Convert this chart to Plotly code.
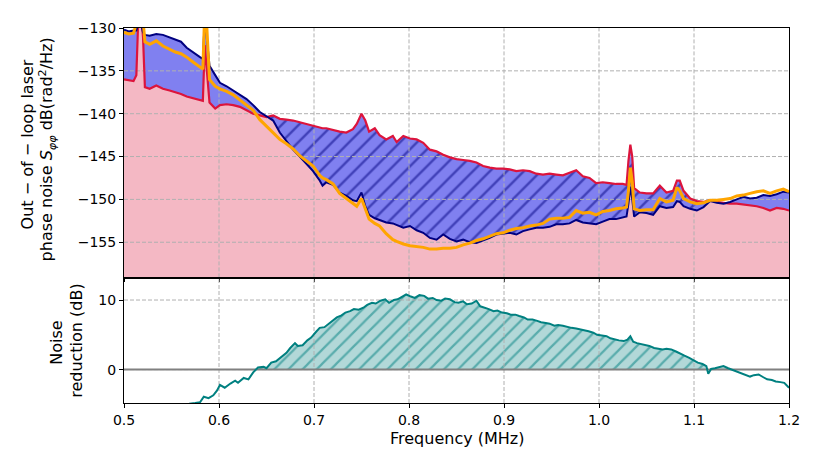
import numpy as np
import plotly.graph_objects as go

# ---- data ----
FREQ = [0.500, 0.505, 0.510, 0.513, 0.515, 0.518, 0.520, 0.522, 0.527, 0.534,
        0.541, 0.548, 0.554, 0.560, 0.566, 0.573, 0.580, 0.583, 0.585, 0.587,
        0.590, 0.596, 0.601, 0.608, 0.615, 0.622, 0.629, 0.636, 0.643, 0.650,
        0.657, 0.664, 0.671, 0.678, 0.685, 0.692, 0.699, 0.706, 0.709, 0.713,
        0.720, 0.727, 0.734, 0.741, 0.745, 0.750, 0.754, 0.758, 0.764, 0.769,
        0.776, 0.783, 0.787, 0.794, 0.801, 0.808, 0.815, 0.822, 0.829, 0.836,
        0.843, 0.850, 0.857, 0.864, 0.871, 0.878, 0.885, 0.892, 0.899, 0.906,
        0.913, 0.920, 0.927, 0.934, 0.941, 0.948, 0.955, 0.962, 0.969, 0.976,
        0.983, 0.990, 0.997, 1.004, 1.011, 1.018, 1.025, 1.029, 1.031, 1.033,
        1.035, 1.037, 1.043, 1.050, 1.057, 1.064, 1.071, 1.078, 1.082, 1.085,
        1.089, 1.096, 1.103, 1.110, 1.117, 1.124, 1.131, 1.138, 1.145, 1.152,
        1.159, 1.166, 1.173, 1.180, 1.187, 1.194, 1.200]

CRIMSON_DB = [-136.0, -136.1, -136.2, -135.5, -129.0, -128.5, -131.0, -136.9, -137.1, -136.7,
              -137.1, -137.3, -137.5, -137.7, -138.0, -138.2, -138.4, -138.5, -132.0, -134.5,
              -138.7, -139.4, -139.0, -138.9, -139.0, -139.2, -139.6, -140.0, -140.2, -140.4,
              -140.2, -140.6, -140.7, -140.8, -141.0, -141.2, -141.4, -141.6, -141.7, -141.7,
              -141.9, -142.1, -142.2, -141.8, -141.2, -140.0, -140.8, -142.1, -141.7, -142.5,
              -143.0, -142.6, -143.3, -142.6, -142.9, -143.0, -143.4, -144.2, -144.4, -144.8,
              -145.1, -145.3, -145.4, -145.5, -145.7, -146.1, -146.3, -146.4, -146.4, -146.5,
              -146.7, -146.6, -146.7, -147.0, -147.1, -147.0, -147.1, -147.2, -146.9, -146.6,
              -147.3, -147.5, -148.1, -148.0, -148.1, -148.2, -148.2, -148.3, -145.5, -143.6,
              -145.0, -148.7, -149.2, -149.3, -149.3, -148.4, -149.2, -149.0, -147.8, -147.8,
              -149.0, -149.9, -150.2, -150.3, -150.1, -150.3, -150.4, -150.5, -150.5, -150.6,
              -150.7, -150.8, -151.0, -151.3, -151.0, -151.1, -151.3]

NAVY_DB = [-130.2, -130.4, -130.3, -130.3, -129.5, -129.5, -130.5, -130.8, -130.9, -130.7,
           -130.8, -131.1, -131.3, -131.6, -132.3, -132.9, -133.4, -133.6, -129.0, -131.0,
           -134.4, -135.5, -136.4, -136.8, -137.3, -137.9, -138.3, -139.0, -139.8, -140.3,
           -140.8, -142.2, -143.2, -144.2, -145.0, -145.8, -146.7, -147.8, -148.4, -148.0,
           -148.3, -149.2, -149.6, -150.1, -150.2, -149.2, -150.8, -151.8, -152.2, -152.4,
           -152.7, -152.8, -153.0, -153.3, -153.1, -153.6, -153.9, -154.5, -154.7, -154.1,
           -154.6, -154.9, -154.7, -155.0, -155.1, -154.8, -154.5, -154.1, -154.0, -153.9,
           -154.1, -153.7, -153.5, -153.3, -153.3, -153.2, -152.9, -152.9, -152.8, -152.4,
           -152.7, -152.8, -152.9, -152.6, -152.3, -152.3, -152.1, -152.0, -150.5, -148.5,
           -150.0, -152.0, -151.5, -151.6, -151.8, -150.8, -151.0, -150.9, -150.2, -150.3,
           -150.8, -151.1, -151.3, -150.9, -150.2, -150.4, -150.5, -150.3, -150.0, -149.7,
           -149.9, -149.8, -149.5, -149.6, -149.4, -149.1, -149.2]

ORANGE_DB = [-130.5, -130.7, -130.6, -129.5, -128.0, -128.0, -129.0, -131.6, -131.9, -131.5,
             -132.1, -132.5, -132.8, -133.0, -133.4, -134.0, -134.5, -134.8, -128.0, -129.5,
             -136.0, -136.8, -137.1, -137.4, -137.8, -138.4, -139.0, -139.6, -140.7, -141.5,
             -142.2, -143.0, -143.5, -144.1, -144.9, -145.5, -146.1, -147.2, -147.5, -147.7,
             -148.2, -149.3, -149.9, -150.5, -150.8, -149.9, -151.1, -152.3, -152.8, -153.1,
             -154.0, -154.7, -154.9, -155.2, -155.4, -155.5, -155.6, -155.8, -155.8, -155.7,
             -155.7, -155.6, -155.3, -155.1, -154.8, -154.6, -154.3, -154.0, -153.9, -153.6,
             -153.4, -153.3, -153.1, -153.0, -152.8, -152.3, -152.2, -152.2, -152.1, -151.3,
             -151.6, -151.5, -151.8, -151.4, -151.3, -151.1, -151.0, -150.9, -149.0, -146.3,
             -148.0, -151.1, -151.3, -151.2, -151.2, -149.9, -150.3, -150.1, -148.6, -149.0,
             -149.9, -150.3, -150.5, -150.4, -150.1, -150.1, -150.0, -149.9, -149.6, -149.5,
             -149.3, -149.1, -149.0, -149.3, -149.0, -148.8, -149.1]

RED_FREQ = [0.560, 0.569, 0.575, 0.580, 0.584, 0.589, 0.594, 0.598, 0.601, 0.606,
            0.612, 0.617, 0.620, 0.626, 0.631, 0.636, 0.641, 0.647, 0.650, 0.655,
            0.660, 0.666, 0.671, 0.675, 0.680, 0.683, 0.688, 0.693, 0.697, 0.702,
            0.706, 0.711, 0.715, 0.720, 0.724, 0.729, 0.733, 0.738, 0.742, 0.747,
            0.752, 0.756, 0.761, 0.765, 0.770, 0.775, 0.779, 0.784, 0.788, 0.793,
            0.797, 0.802, 0.806, 0.811, 0.816, 0.820, 0.825, 0.829, 0.834, 0.838,
            0.843, 0.848, 0.852, 0.857, 0.861, 0.866, 0.871, 0.875, 0.880, 0.884,
            0.889, 0.893, 0.898, 0.903, 0.907, 0.912, 0.916, 0.921, 0.925, 0.930,
            0.935, 0.939, 0.944, 0.948, 0.953, 0.957, 0.962, 0.967, 0.971, 0.976,
            0.980, 0.985, 0.989, 0.994, 0.998, 1.003, 1.008, 1.012, 1.017, 1.021,
            1.026, 1.030, 1.033, 1.036, 1.040, 1.044, 1.049, 1.053, 1.058, 1.062,
            1.067, 1.071, 1.076, 1.081, 1.086, 1.090, 1.095, 1.099, 1.104, 1.109,
            1.113, 1.115, 1.118, 1.122, 1.127, 1.131, 1.136, 1.140, 1.145, 1.150,
            1.154, 1.159, 1.163, 1.168, 1.173, 1.177, 1.182, 1.186, 1.191, 1.195,
            1.200]

REDUCTION_DB = [-5.6, -4.9, -4.8, -4.7, -3.9, -4.1, -3.7, -3.0, -2.2, -2.6,
                -2.0, -1.6, -1.9, -1.2, -1.4, -0.4, 0.3, 0.4, 0.2, 1.0,
                1.2, 1.8, 2.4, 3.1, 3.8, 3.4, 3.5, 4.2, 4.6, 5.4,
                6.0, 6.1, 6.5, 7.1, 7.5, 7.8, 8.2, 8.4, 8.7, 8.6,
                8.9, 9.3, 9.6, 9.5, 9.9, 10.1, 9.6, 10.0, 10.1, 10.5,
                10.8, 10.5, 10.3, 10.7, 10.6, 10.2, 10.3, 10.0, 9.9, 10.2,
                10.1, 9.7, 9.6, 9.8, 9.4, 9.5, 9.9, 9.1, 8.9, 8.7,
                8.4, 8.5, 8.2, 8.1, 7.9, 7.9, 7.7, 7.5, 7.2, 7.2,
                7.0, 6.8, 6.7, 6.6, 6.3, 6.4, 6.3, 6.1, 6.0, 5.9,
                5.8, 5.7, 5.5, 5.3, 5.0, 4.9, 4.8, 4.5, 4.3, 4.2,
                4.1, 4.3, 4.8, 4.0, 3.8, 3.7, 3.6, 3.4, 3.1, 3.0,
                2.9, 3.0, 2.9, 2.6, 2.2, 2.0, 1.7, 1.4, 1.0, 0.8,
                0.5, -0.6, 0.1, 0.2, 0.4, 0.5, 0.2, 0.0, -0.3, -0.5,
                -0.7, -1.0, -0.8, -0.7, -1.1, -1.4, -1.5, -1.7, -1.8, -1.9,
                -2.6]

X_TICKS = [0.5, 0.6, 0.7, 0.8, 0.9, 1.0, 1.1, 1.2]
TOP_Y_TICKS = [-155, -150, -145, -140, -135, -130]
BOT_Y_TICKS = [0, 10]
X_RANGE = [0.5, 1.2]
TOP_Y_RANGE = [-159.1, -130]
BOT_Y_RANGE = [-4.8, 13]

# the page puts the plot 8px in from the top-left corner, so the figure is
# 8px smaller and the margins are shifted to land on the reference pixels
PAGE_OFF = 8
W, H = 830 - PAGE_OFF, 475 - PAGE_OFF
L, R, T, B = 124 - PAGE_OFF, 41, 23 - PAGE_OFF, 72
FONT = "DejaVu Sans"
TICK_SIZE = 14
LABEL_SIZE = 16
GRID = "#b0b0b0"

PINK = "#f4b8c4"
BLUE_FILL = "#8080f0"
TEAL_FILL = "#b2d8d8"


def px_x(px):
    # page pixel -> paper x
    return (px - PAGE_OFF - L) / (W - L - R)


def px_y(py):
    # page pixel -> paper y
    return (H - B - (py - PAGE_OFF)) / (H - T - B)


def vgrid(xs, ys, xref, yref):
    gx, gy = [], []
    for x in xs:
        gx += [x, x, None]
        gy += [ys[0], ys[1], None]
    return go.Scatter(x=gx, y=gy, mode="lines", xaxis=xref, yaxis=yref,
                      line=dict(color=GRID, width=1, dash="4px,2px"),
                      hoverinfo="skip", showlegend=False)


def hgrid(ys, xs, xref, yref):
    gx, gy = [], []
    for y in ys:
        gx += [xs[0], xs[1], None]
        gy += [y, y, None]
    return go.Scatter(x=gx, y=gy, mode="lines", xaxis=xref, yaxis=yref,
                      line=dict(color=GRID, width=1, dash="4px,2px"),
                      hoverinfo="skip", showlegend=False)


freq = np.array(FREQ)
crimson = np.array(CRIMSON_DB)
navy = np.array(NAVY_DB)

fig = go.Figure()

# top panel: pink under crimson, blue between navy & crimson, hatch where reduced
fig.add_trace(go.Scatter(x=freq, y=np.full(len(freq), TOP_Y_RANGE[0] - 1), mode="lines",
                         line=dict(width=0), showlegend=False, hoverinfo="skip"))
fig.add_trace(go.Scatter(x=freq, y=crimson, mode="lines", line=dict(width=0),
                         fill="tonexty", fillcolor=PINK, showlegend=False))
fig.add_trace(go.Scatter(x=freq, y=navy, mode="lines", line=dict(width=0),
                         fill="tonexty", fillcolor=BLUE_FILL, showlegend=False))
fig.add_trace(go.Scatter(x=freq, y=np.maximum(crimson, navy), mode="lines", line=dict(width=0),
                         fill="tonexty",
                         fillpattern=dict(shape="/", fgcolor="#000080", bgcolor="rgba(0,0,0,0)",
                                          size=12, solidity=0.2),
                         showlegend=False))
fig.add_trace(vgrid(X_TICKS[1:-1], TOP_Y_RANGE, "x", "y"))
fig.add_trace(hgrid(TOP_Y_TICKS[:-1], X_RANGE, "x", "y"))
fig.add_trace(go.Scatter(x=freq, y=crimson, mode="lines",
                         line=dict(color="#dc143c", width=2.2), showlegend=False))
fig.add_trace(go.Scatter(x=freq, y=navy, mode="lines",
                         line=dict(color="#000080", width=2), showlegend=False))
fig.add_trace(go.Scatter(x=freq, y=ORANGE_DB, mode="lines",
                         line=dict(color="#ffa500", width=3), showlegend=False))

# bottom panel: noise reduction
fig.add_trace(go.Scatter(x=RED_FREQ, y=np.clip(REDUCTION_DB, 0, None), mode="lines",
                         line=dict(width=0), fill="tozeroy",
                         fillpattern=dict(shape="/", fgcolor="#008080", bgcolor=TEAL_FILL,
                                          size=10, solidity=0.22),
                         xaxis="x2", yaxis="y2", showlegend=False))
fig.add_trace(vgrid(X_TICKS[1:-1], BOT_Y_RANGE, "x2", "y2"))
fig.add_trace(hgrid(BOT_Y_TICKS, X_RANGE, "x2", "y2"))
fig.add_trace(go.Scatter(x=X_RANGE, y=[0, 0], mode="lines", line=dict(color="#808080", width=2),
                         xaxis="x2", yaxis="y2", showlegend=False, hoverinfo="skip"))
fig.add_trace(go.Scatter(x=RED_FREQ, y=REDUCTION_DB, mode="lines",
                         line=dict(color="#008080", width=2),
                         xaxis="x2", yaxis="y2", showlegend=False))

axis_style = dict(showline=True, mirror=True, linecolor="black", linewidth=1,
                  ticks="outside", ticklen=4, tickwidth=1, tickcolor="black",
                  showgrid=False, zeroline=False,
                  tickfont=dict(family=FONT, size=TICK_SIZE, color="black"))

fig.update_layout(
    width=W, height=H,
    margin=dict(l=L, r=R, t=T, b=B),
    paper_bgcolor="white", plot_bgcolor="white",
    font=dict(family=FONT, size=TICK_SIZE, color="black"),
    xaxis=dict(domain=[0, 1], anchor="y", range=X_RANGE, tickvals=X_TICKS,
               showticklabels=False, **axis_style),
    yaxis=dict(domain=[px_y(275.7), 1], anchor="x", range=TOP_Y_RANGE,
               tickvals=TOP_Y_TICKS, **axis_style),
    xaxis2=dict(domain=[0, 1], anchor="y2", range=X_RANGE, tickvals=X_TICKS,
                tickformat=".1f", matches="x", **axis_style),
    yaxis2=dict(domain=[0, px_y(277.5)], anchor="x2", range=BOT_Y_RANGE,
                tickvals=BOT_Y_TICKS, **axis_style),
)

annots = [
    ("Out − of − loop laser", 27, 141),
    ("phase noise <i>S</i><sub><i>φφ</i></sub> dB(rad<sup>2</sup>/Hz)", 47, 146),
    ("Noise", 57, 342),
    ("reduction (dB)", 77, 340),
]
for text, px, py in annots:
    fig.add_annotation(text=text, x=px_x(px), y=px_y(py), xref="paper", yref="paper",
                       xanchor="center", yanchor="middle", textangle=-90, showarrow=False,
                       font=dict(family=FONT, size=LABEL_SIZE, color="black"))
fig.add_annotation(text="Frequency (MHz)", x=px_x(456.5), y=px_y(439), xref="paper", yref="paper",
                   xanchor="center", yanchor="middle", showarrow=False,
                   font=dict(family=FONT, size=LABEL_SIZE, color="black"))

fig.write_html("out.html")
